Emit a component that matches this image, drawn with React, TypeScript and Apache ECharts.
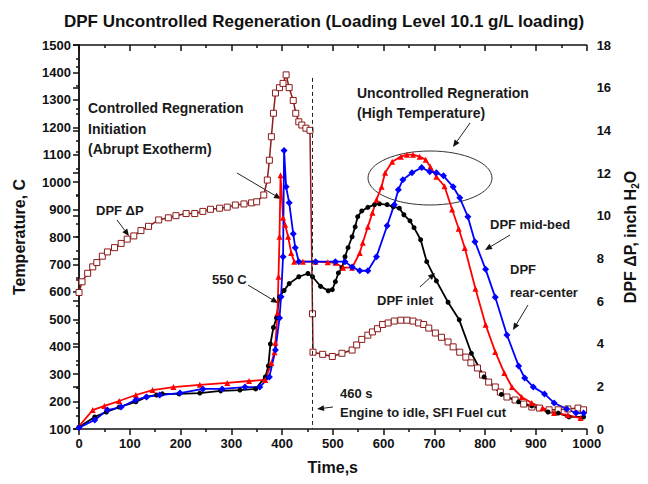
import React, { useEffect, useRef } from "react";
import * as echarts from "echarts";

const inletTime = [0, 31, 54, 79, 112, 133, 153, 164, 197, 238, 279, 317, 348, 367, 373, 377, 383, 389, 395, 404, 414, 433, 451, 460, 476, 491, 499, 505, 511, 518, 524, 530, 538, 544, 549, 557, 569, 582, 592, 607, 619, 631, 640, 652, 660, 673, 685, 704, 727, 749, 773, 798, 832, 866, 892, 924, 944, 965, 994];
const inletTemp = [107, 144, 162, 180, 199, 217, 224, 228, 228, 231, 239, 242, 246, 290, 330, 410, 470, 505, 582, 605, 630, 655, 667, 655, 620, 604, 608, 637, 669, 688, 728, 761, 801, 837, 874, 895, 908, 918, 921, 918, 910, 905, 881, 859, 834, 790, 710, 640, 562, 498, 376, 290, 226, 199, 184, 162, 158, 144, 144];

const midTime = [0, 27, 50, 79, 112, 145, 186, 238, 292, 335, 367, 379, 385, 387, 391, 393, 395, 397, 402, 406, 412, 418, 424, 441, 466, 490, 505, 520, 538, 553, 559, 569, 578, 586, 596, 603, 617, 634, 646, 658, 671, 683, 692, 704, 720, 735, 748, 760, 781, 801, 820, 838, 853, 872, 892, 913, 936, 963, 988];
const midTemp = [110, 169, 184, 202, 224, 242, 253, 261, 268, 275, 279, 341, 380, 414, 523, 655, 801, 1025, 870, 845, 801, 742, 710, 710, 710, 708, 706, 688, 688, 742, 779, 837, 888, 936, 983, 1034, 1074, 1093, 1100, 1100, 1093, 1082, 1056, 1020, 985, 900, 830, 760, 611, 480, 381, 304, 253, 217, 195, 177, 158, 151, 140];

const rearTime = [0, 31, 56, 83, 112, 133, 159, 199, 244, 282, 327, 356, 375, 387, 395, 398, 402, 404, 408, 414, 422, 426, 433, 466, 505, 524, 538, 553, 569, 586, 607, 621, 629, 638, 656, 675, 691, 704, 718, 737, 750, 766, 780, 801, 820, 843, 866, 878, 895, 917, 936, 961, 979, 994];
const rearTemp = [105, 133, 169, 180, 206, 217, 224, 231, 246, 246, 253, 253, 290, 388, 505, 582, 728, 1115, 983, 925, 812, 761, 710, 710, 710, 710, 691, 677, 677, 728, 841, 918, 972, 1009, 1034, 1053, 1038, 1034, 1023, 983, 943, 874, 783, 682, 580, 443, 330, 286, 253, 228, 195, 173, 158, 158];

const dpTime = [0, 6, 17, 27, 35, 46, 56, 70, 83, 95, 108, 122, 137, 157, 176, 191, 211, 228, 244, 259, 277, 292, 308, 325, 340, 350, 364, 371, 375, 379, 383, 387, 395, 402, 408, 414, 422, 427, 433, 439, 447, 455, 460, 461, 480, 499, 518, 538, 547, 557, 569, 578, 588, 598, 609, 621, 634, 646, 658, 669, 679, 689, 702, 714, 727, 737, 750, 762, 772, 785, 795, 807, 820, 830, 843, 859, 876, 892, 907, 926, 944, 963, 983, 994];
const dpValue = [6.4, 6.9, 7.3, 7.6, 7.8, 8.1, 8.3, 8.5, 8.7, 8.9, 9.05, 9.3, 9.5, 9.8, 9.9, 10.0, 10.1, 10.1, 10.2, 10.3, 10.35, 10.4, 10.5, 10.55, 10.6, 10.65, 10.97, 11.67, 12.6, 13.7, 14.8, 15.75, 16.0, 16.2, 16.6, 16.0, 15.4, 14.8, 14.4, 14.25, 14.1, 14.0, 5.4, 3.6, 3.5, 3.4, 3.55, 3.7, 3.94, 4.2, 4.4, 4.55, 4.7, 4.9, 4.97, 5.06, 5.1, 5.1, 5.06, 4.97, 4.9, 4.73, 4.5, 4.3, 4.08, 3.85, 3.6, 3.37, 3.1, 2.86, 2.53, 2.2, 1.97, 1.73, 1.5, 1.36, 1.17, 1.03, 0.98, 0.9, 0.9, 0.94, 0.98, 0.9];

const pairs = (t: number[], v: number[]) => t.map((x, i) => [x, v[i]]);

const FONT = "'Liberation Sans', Arial, sans-serif";
const TXT = "#1a1a1a";

function arrow(x1: number, y1: number, x2: number, y2: number) {
  const ang = Math.atan2(y2 - y1, x2 - x1);
  const L = 7, W = 3;
  const bx = x2 - L * Math.cos(ang), by = y2 - L * Math.sin(ang);
  const px = -Math.sin(ang) * W, py = Math.cos(ang) * W;
  return [
    { type: "line", shape: { x1, y1, x2: bx, y2: by }, style: { stroke: "#222", lineWidth: 1 } },
    { type: "polygon", shape: { points: [[x2, y2], [bx + px, by + py], [bx - px, by - py]] }, style: { fill: "#111" } },
  ];
}

function label(text: string, x: number, y: number, size = 13) {
  return {
    type: "text",
    x,
    y,
    style: { text, fill: TXT, font: `bold ${size}px ${FONT}`, textVerticalAlign: "middle" },
  };
}

export default function App() {
  const ref = useRef<HTMLDivElement>(null);
  useEffect(() => {
    if (!ref.current) return;
    const chart = echarts.init(ref.current, null, { renderer: "svg" });
    const axisLbl = { color: "#111", fontWeight: "bold", fontSize: 13, fontFamily: FONT, formatter: (v: number) => String(v) };
    chart.setOption({
      animation: false,
      backgroundColor: "#fff",
      title: {
        text: "DPF Uncontrolled Regeneration (Loading Level 10.1 g/L loading)",
        left: "center",
        top: 8,
        textStyle: { color: "#111", fontWeight: "bold", fontSize: 17, fontFamily: "'Liberation Sans Narrow', 'Liberation Sans', Arial, sans-serif" },
      },
      grid: { left: 79, right: 52, top: 45, bottom: 55 },
      xAxis: [
        {
          type: "value",
          min: 0,
          max: 1000,
          interval: 100,
          name: "Time,s",
          nameLocation: "middle",
          nameGap: 30,
          nameTextStyle: { color: "#111", fontWeight: "bold", fontSize: 16, fontFamily: FONT },
          axisLine: { show: true, lineStyle: { color: "#111", width: 1.5 } },
          axisTick: { show: true, inside: false, length: 6, lineStyle: { color: "#111", width: 1.5 } },
          minorTick: { show: true, splitNumber: 2, length: 3, lineStyle: { color: "#111", width: 1.5 } },
          axisLabel: { ...axisLbl, margin: 8 },
          splitLine: { show: false },
        },
        {
          type: "value",
          position: "top",
          min: 0,
          max: 1000,
          interval: 100,
          axisLine: { show: true, lineStyle: { color: "#111", width: 1.5 } },
          axisTick: { show: true, inside: true, length: 6, lineStyle: { color: "#111", width: 1.5 } },
          minorTick: { show: true, splitNumber: 2, length: 3, lineStyle: { color: "#111", width: 1.5 } },
          axisLabel: { show: false },
          splitLine: { show: false },
        },
      ],
      yAxis: [
        {
          type: "value",
          min: 100,
          max: 1500,
          interval: 100,
          name: "Temperature, C",
          nameLocation: "middle",
          nameRotate: 90,
          nameGap: 52,
          nameTextStyle: { color: "#111", fontWeight: "bold", fontSize: 16, fontFamily: FONT },
          axisLine: { show: true, lineStyle: { color: "#111", width: 1.5 } },
          axisTick: { show: true, inside: false, length: 6, lineStyle: { color: "#111", width: 1.5 } },
          minorTick: { show: true, splitNumber: 2, length: 3, lineStyle: { color: "#111", width: 1.5 } },
          axisLabel: { ...axisLbl, margin: 8 },
          splitLine: { show: false },
        },
        {
          type: "value",
          min: 0,
          max: 18,
          interval: 2,
          position: "right",
          name: "DPF ΔP, inch H{sub|2}O",
          nameLocation: "middle",
          nameRotate: 90,
          nameGap: 32,
          nameTextStyle: {
            color: "#111",
            fontWeight: "bold",
            fontSize: 16,
            fontFamily: FONT,
            rich: { sub: { fontSize: 10, fontWeight: "bold", fontFamily: FONT, color: "#111", verticalAlign: "bottom", padding: [10, 0, 0, 0] } },
          },
          axisLine: { show: true, lineStyle: { color: "#111", width: 1.5 } },
          axisTick: { show: true, inside: true, length: 6, lineStyle: { color: "#111", width: 1.5 } },
          minorTick: { show: true, splitNumber: 2, length: 3, lineStyle: { color: "#111", width: 1.5 } },
          axisLabel: { ...axisLbl, margin: 10 },
          splitLine: { show: false },
        },
      ],
      series: [
        {
          name: "DPF ΔP",
          type: "line",
          yAxisIndex: 1,
          data: pairs(dpTime, dpValue),
          symbol: "rect",
          symbolSize: 6,
          showAllSymbol: true,
          lineStyle: { color: "#8b1a1a", width: 1.5 },
          itemStyle: { color: "#fff", borderColor: "#8b1a1a", borderWidth: 1 },
        },
        {
          name: "DPF inlet",
          type: "line",
          data: pairs(inletTime, inletTemp),
          symbol: "circle",
          symbolSize: 5,
          showAllSymbol: true,
          lineStyle: { color: "#000", width: 1.8 },
          itemStyle: { color: "#000" },
          markLine: {
            silent: true,
            symbol: "none",
            label: { show: false },
            lineStyle: { color: "#222", type: [4, 3], width: 1 },
            data: [[{ coord: [460, 1380] }, { coord: [460, 100] }]],
          },
        },
        {
          name: "DPF mid-bed",
          type: "line",
          data: pairs(midTime, midTemp),
          symbol: "triangle",
          symbolSize: 6,
          showAllSymbol: true,
          lineStyle: { color: "#ff0000", width: 1.8 },
          itemStyle: { color: "#ff0000" },
        },
        {
          name: "DPF rear-center",
          type: "line",
          data: pairs(rearTime, rearTemp),
          symbol: "diamond",
          symbolSize: 7,
          showAllSymbol: true,
          lineStyle: { color: "#0000ff", width: 1.8 },
          itemStyle: { color: "#0000ff" },
        },
      ],
      graphic: [
        label("Controlled Regneration", 88, 108, 14),
        label("Initiation", 88, 129, 14),
        label("(Abrupt Exotherm)", 88, 149, 14),
        ...arrow(237, 173, 281, 199),
        label("DPF ΔP", 96, 210, 13),
        ...arrow(117, 220, 129, 236),
        label("550 C", 212, 279, 13),
        ...arrow(248, 285, 278, 303),
        label("Uncontrolled Regneration", 357, 93, 14),
        label("(High Temperature)", 357, 113, 14),
        ...arrow(470, 123, 453, 147),
        {
          type: "ellipse",
          shape: { cx: 430, cy: 178, rx: 62, ry: 27 },
          style: { fill: "none", stroke: "#333", lineWidth: 1 },
        },
        label("DPF mid-bed", 490, 224, 13),
        ...arrow(510, 235, 485, 250),
        label("DPF", 510, 269, 13),
        label("rear-center", 510, 292, 13),
        ...arrow(528, 305, 513, 330),
        label("DPF inlet", 377, 300, 13),
        ...arrow(420, 287, 435, 273),
        label("460 s", 340, 393, 13),
        label("Engine to idle, SFI Fuel cut", 340, 412, 13),
        ...arrow(333, 407, 317, 409),
      ],
    });
    return () => chart.dispose();
  }, []);
  return <div ref={ref} style={{ position: "absolute", left: 0, top: 0, width: 648, height: 484 }} />;
}
